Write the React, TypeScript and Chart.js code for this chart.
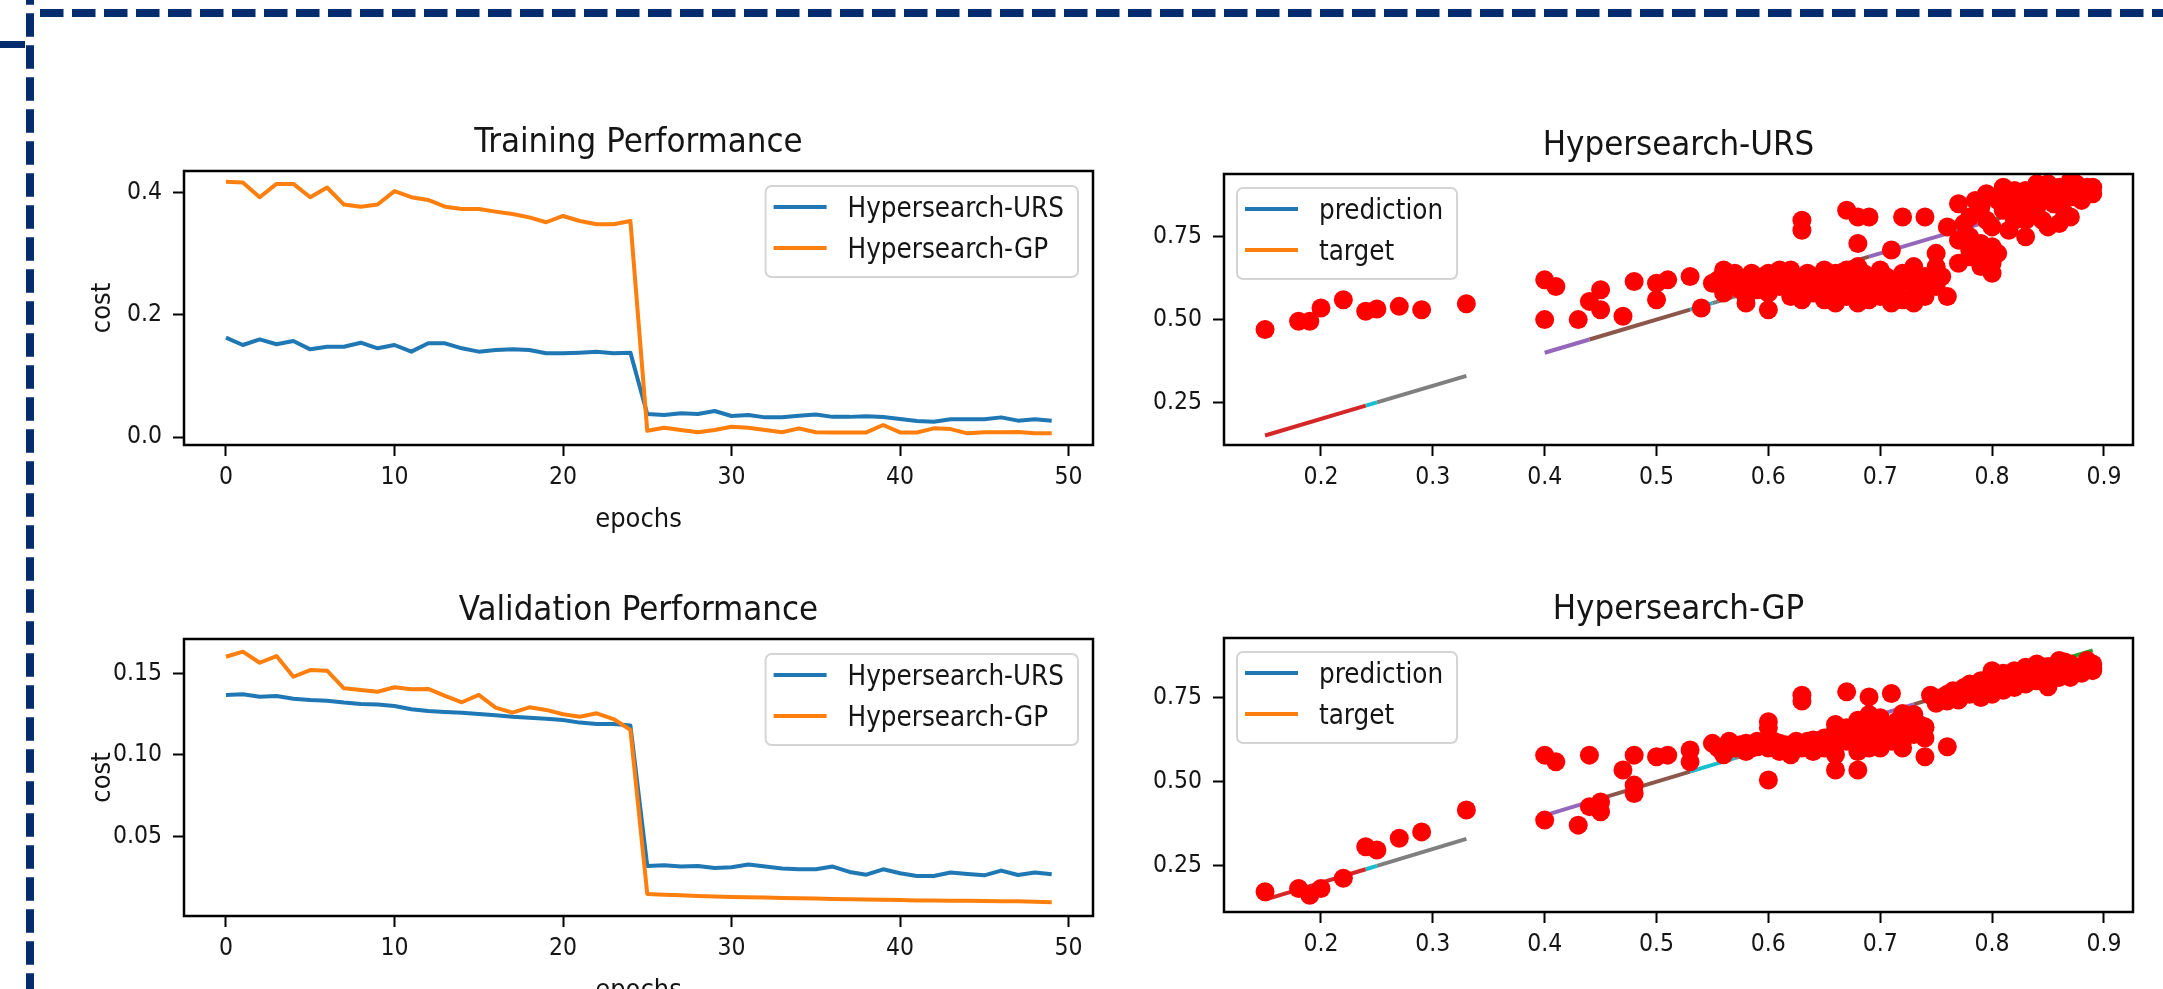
import React, { useEffect, useRef } from 'react';
import { Chart, registerables } from 'chart.js';

Chart.register(...registerables);

// ---------------- DATA ----------------
const EPOCHS = [0,1,2,3,4,5,6,7,8,9,10,11,12,13,14,15,16,17,18,19,20,21,22,23,24,25,26,27,28,29,30,31,32,33,34,35,36,37,38,39,40,41,42,43,44,45,46,47,48,49];

const TRAIN_URS = [0.1628,0.1508,0.160,0.152,0.1574,0.1437,0.148,0.148,0.1546,0.1454,0.1508,0.1399,0.1536,0.1536,0.1454,0.1399,0.1426,0.1437,0.1426,0.1372,0.1372,0.1383,0.1399,0.1372,0.1383,0.0377,0.036,0.0388,0.0377,0.0426,0.0344,0.036,0.0322,0.0322,0.035,0.037,0.033,0.033,0.034,0.0328,0.0295,0.0262,0.025,0.029,0.029,0.029,0.0322,0.0268,0.029,0.0268];
const TRAIN_GP = [0.4185,0.417,0.393,0.4148,0.4148,0.393,0.409,0.381,0.3775,0.381,0.403,0.393,0.3885,0.3775,0.3738,0.3738,0.3694,0.3656,0.360,0.352,0.3623,0.354,0.3487,0.3487,0.354,0.0103,0.0153,0.0115,0.0077,0.0115,0.0169,0.0153,0.0115,0.0077,0.0142,0.0077,0.0075,0.0075,0.0075,0.0197,0.0075,0.0075,0.0142,0.013,0.006,0.0077,0.008,0.0083,0.006,0.006];

const VAL_URS = [0.1369,0.1373,0.1358,0.1362,0.1346,0.1338,0.1334,0.1322,0.1313,0.131,0.1301,0.1281,0.127,0.1264,0.126,0.1252,0.1244,0.1235,0.1229,0.1223,0.1215,0.1199,0.119,0.119,0.1182,0.0318,0.0322,0.0314,0.0318,0.0305,0.031,0.0326,0.0314,0.0302,0.0297,0.0297,0.0314,0.0281,0.0264,0.0297,0.0273,0.0256,0.0256,0.0277,0.0268,0.026,0.0289,0.0262,0.0277,0.0266];
const VAL_GP = [0.1604,0.1635,0.1567,0.1608,0.1481,0.1522,0.1518,0.141,0.140,0.1389,0.1416,0.1404,0.1406,0.1363,0.1324,0.1369,0.1291,0.126,0.1293,0.1277,0.125,0.1235,0.1256,0.1221,0.1154,0.0146,0.0141,0.0137,0.0133,0.013,0.0127,0.0125,0.0123,0.0121,0.0119,0.0117,0.0115,0.0113,0.0111,0.011,0.0108,0.0106,0.0105,0.0104,0.0103,0.0102,0.0101,0.0100,0.0097,0.0094];

const SERIES_NAMES = ['Hypersearch-URS', 'Hypersearch-GP'];
const SCATTER_LEGEND = ['prediction', 'target'];

const URS_X = [0.15,0.18,0.19,0.20,0.22,0.24,0.25,0.27,0.29,0.33,0.40,0.41,0.40,0.43,0.44,0.45,0.45,0.47,0.48,0.50,0.51,0.50,0.53,0.54,0.55,0.56,0.57,0.56,0.58,0.59,0.595,0.60,0.61,0.61,0.57,0.58,0.59,0.60,0.60,0.62,0.62,0.63,0.64,0.64,0.65,0.65,0.66,0.66,0.67,0.67,0.68,0.68,0.69,0.69,0.70,0.70,0.71,0.71,0.72,0.72,0.73,0.74,0.74,0.75,0.75,0.63,0.63,0.67,0.68,0.68,0.69,0.71,0.72,0.74,0.76,0.75,0.73,0.76,0.68,0.77,0.77,0.78,0.78,0.79,0.795,0.80,0.80,0.81,0.81,0.82,0.82,0.83,0.83,0.84,0.85,0.85,0.86,0.865,0.87,0.875,0.88,0.89,0.87,0.85,0.79,0.80,0.83,0.84,0.86,0.88,0.78,0.77,0.82,0.84,
  0.555,0.565,0.575,0.585,0.605,0.615,0.625,0.635,0.645,0.655,0.665,0.675,0.685,0.695,0.705,0.715,0.725,0.735,0.745,0.755,0.63,0.65,0.67,0.69,0.71,0.73,0.62,0.58,0.66,0.70,
  0.775,0.785,0.79,0.795,0.805,0.805,0.815,0.815,0.825,0.83,0.835,0.845,0.845,0.855,0.86,0.865,0.87,0.875,0.88,0.885,0.89,0.78,0.79,0.80,0.82,0.85,0.87,0.86];
const URS_Y = [0.47,0.495,0.495,0.535,0.56,0.525,0.532,0.54,0.53,0.548,0.62,0.60,0.50,0.50,0.555,0.59,0.53,0.51,0.615,0.61,0.62,0.56,0.63,0.535,0.61,0.65,0.61,0.58,0.62,0.59,0.63,0.53,0.65,0.60,0.64,0.57,0.61,0.64,0.58,0.62,0.57,0.60,0.63,0.58,0.61,0.56,0.64,0.60,0.57,0.62,0.59,0.55,0.63,0.58,0.61,0.65,0.58,0.62,0.64,0.56,0.60,0.63,0.57,0.60,0.66,0.80,0.77,0.83,0.81,0.73,0.81,0.71,0.81,0.81,0.78,0.70,0.66,0.57,0.66,0.67,0.85,0.81,0.75,0.70,0.88,0.67,0.78,0.90,0.83,0.86,0.80,0.75,0.89,0.84,0.78,0.88,0.85,0.90,0.81,0.88,0.86,0.90,0.92,0.91,0.84,0.72,0.80,0.88,0.88,0.89,0.71,0.74,0.89,0.91,
  0.62,0.63,0.59,0.64,0.61,0.63,0.60,0.64,0.61,0.58,0.62,0.60,0.64,0.60,0.63,0.60,0.62,0.58,0.61,0.63,0.56,0.65,0.65,0.56,0.55,0.55,0.65,0.55,0.55,0.57,
  0.79,0.86,0.73,0.80,0.86,0.70,0.88,0.77,0.84,0.86,0.82,0.89,0.80,0.85,0.90,0.82,0.87,0.91,0.88,0.90,0.88,0.69,0.66,0.64,0.82,0.87,0.90,0.79];

const GP_X = [0.15,0.18,0.19,0.20,0.22,0.24,0.25,0.27,0.29,0.33,0.40,0.40,0.41,0.43,0.44,0.44,0.45,0.45,0.47,0.48,0.48,0.48,0.50,0.51,0.53,0.53,0.55,0.56,0.58,0.59,0.60,0.60,0.61,0.63,0.62,0.64,0.66,0.67,0.68,0.68,0.69,0.70,0.71,0.72,0.74,0.74,0.76,0.745,0.765,0.78,0.795,0.81,0.82,0.84,0.85,0.855,0.865,0.88,0.89,0.85,0.81,0.77,0.75,0.56,0.57,0.58,0.59,0.60,0.61,0.62,0.63,0.64,0.64,0.65,0.65,0.66,0.66,0.67,0.67,0.68,0.69,0.69,0.70,0.70,0.71,0.72,0.72,0.73,0.73,0.74,0.71,0.66,0.62,0.63,0.60,0.76,0.77,0.78,0.79,0.80,0.80,0.81,0.82,0.83,0.83,0.84,0.85,0.86,0.86,0.87,0.87,0.88,0.89,0.79,0.82,0.84,0.76,0.78,0.80,
  0.555,0.565,0.575,0.585,0.595,0.605,0.615,0.625,0.635,0.645,0.655,0.665,0.675,0.685,0.695,0.705,0.715,0.725,0.735,0.68,0.70,0.72,0.74,0.66,0.69,
  0.755,0.765,0.775,0.785,0.795,0.805,0.815,0.825,0.835,0.845,0.855,0.865,0.875,0.885,0.89,0.81,0.83,0.85,0.87,0.79,0.77,0.86,0.82,0.80];
const GP_Y = [0.173,0.183,0.163,0.183,0.213,0.307,0.297,0.332,0.351,0.416,0.386,0.579,0.559,0.371,0.579,0.426,0.411,0.44,0.535,0.579,0.465,0.49,0.574,0.579,0.594,0.559,0.614,0.604,0.614,0.604,0.678,0.505,0.614,0.757,0.584,0.624,0.535,0.767,0.535,0.683,0.752,0.634,0.762,0.703,0.663,0.574,0.604,0.757,0.762,0.772,0.802,0.822,0.802,0.832,0.782,0.832,0.856,0.822,0.837,0.842,0.772,0.743,0.733,0.58,0.60,0.59,0.62,0.60,0.59,0.61,0.60,0.59,0.62,0.60,0.63,0.61,0.65,0.62,0.66,0.64,0.60,0.67,0.64,0.69,0.66,0.62,0.67,0.64,0.70,0.63,0.62,0.58,0.58,0.74,0.66,0.76,0.77,0.79,0.77,0.81,0.78,0.80,0.83,0.81,0.79,0.80,0.82,0.84,0.81,0.85,0.83,0.84,0.85,0.80,0.78,0.85,0.74,0.76,0.76,
  0.60,0.62,0.61,0.60,0.61,0.62,0.61,0.62,0.62,0.60,0.62,0.63,0.64,0.62,0.65,0.66,0.68,0.65,0.67,0.59,0.60,0.60,0.66,0.67,0.70,
  0.75,0.77,0.78,0.77,0.79,0.80,0.82,0.81,0.82,0.83,0.84,0.83,0.84,0.86,0.83,0.79,0.84,0.80,0.81,0.75,0.75,0.86,0.80,0.83];

// y = x reference segments (start / end values)
const URS_SEG_START = [0.15,0.24,0.25,0.40,0.44,0.53,0.55,0.66,0.69,0.79,0.85,0.87];
const URS_SEG_END   = [0.24,0.25,0.33,0.44,0.53,0.55,0.66,0.69,0.79,0.85,0.87,0.89];
const GP_SEG_START  = [0.15,0.24,0.25,0.40,0.44,0.53,0.57,0.66,0.70,0.73,0.85,0.87];
const GP_SEG_END    = [0.24,0.25,0.33,0.44,0.53,0.57,0.66,0.70,0.73,0.85,0.87,0.89];

const EPOCH_TICKS = [0,10,20,30,40,50];
const EPOCH_TICK_LABELS = ['0','10','20','30','40','50'];
const TRAIN_Y_TICKS = [0.0,0.2,0.4];
const TRAIN_Y_LABELS = ['0.0','0.2','0.4'];
const VAL_Y_TICKS = [0.05,0.10,0.15];
const VAL_Y_LABELS = ['0.05','0.10','0.15'];
const SC_X_TICKS = [0.2,0.3,0.4,0.5,0.6,0.7,0.8,0.9];
const SC_X_LABELS = ['0.2','0.3','0.4','0.5','0.6','0.7','0.8','0.9'];
const SC_Y_TICKS = [0.25,0.50,0.75];
const SC_Y_LABELS = ['0.25','0.50','0.75'];

// ---------------- STYLE ----------------
const SERIES_COLORS = ['#1f77b4', '#ff7f0e'];
const URS_SEG_COLORS = ['#d62728','#17becf','#7f7f7f','#9467bd','#8c564b','#17becf','#7f7f7f','#8c564b','#9467bd','#8c564b','#17becf','#2ca02c'];
const GP_SEG_COLORS  = ['#d62728','#17becf','#7f7f7f','#9467bd','#8c564b','#17becf','#7f7f7f','#8c564b','#9467bd','#8c564b','#17becf','#2ca02c'];
const FONT = '"DejaVu Sans Condensed", "Noto Sans", sans-serif';
const TEXT = '#151515';
const BORDER_NAVY = '#032c6e';
const TITLE_SIZE = 34.5;
const LABEL_SIZE = 27;
const LEGEND_SIZE = 27.5;
const TICK_SIZE = 24.5;

const framePlugin = {
  id: 'frame',
  afterDraw(chart: any, _args: any, opts: any) {
    const { ctx, chartArea: a } = chart;
    ctx.save();
    ctx.strokeStyle = '#000';
    ctx.lineWidth = 2.5;
    ctx.strokeRect(a.left, a.top, a.right - a.left, a.bottom - a.top);
    ctx.fillStyle = TEXT;
    ctx.textBaseline = 'alphabetic';
    ctx.textAlign = 'center';
    const cx = (a.left + a.right) / 2;
    if (opts.title) {
      ctx.font = `${TITLE_SIZE}px ${FONT}`;
      ctx.fillText(opts.title, cx, a.top - 19);
    }
    if (opts.xLabel) {
      ctx.font = `${LABEL_SIZE}px ${FONT}`;
      ctx.fillText(opts.xLabel, cx, a.bottom + 82);
    }
    if (opts.yLabel) {
      ctx.save();
      ctx.font = `${LABEL_SIZE}px ${FONT}`;
      ctx.translate(a.left - 74, (a.top + a.bottom) / 2);
      ctx.rotate(-Math.PI / 2);
      ctx.fillText(opts.yLabel, 0, 0);
      ctx.restore();
    }
    if (opts.legend) {
      const items: string[] = opts.legend;
      const colors: string[] = opts.legendColors;
      ctx.font = `${LEGEND_SIZE}px ${FONT}`;
      const tw = Math.max(...items.map((t) => ctx.measureText(t).width));
      const w = 82 + tw + 14;
      const h = 91;
      const x = opts.legendSide === 'right' ? a.right - 15 - w : a.left + 13;
      const y = opts.legendSide === 'right' ? a.top + 15 : a.top + 14;
      const r = 6;
      ctx.beginPath();
      ctx.moveTo(x + r, y);
      ctx.arcTo(x + w, y, x + w, y + h, r);
      ctx.arcTo(x + w, y + h, x, y + h, r);
      ctx.arcTo(x, y + h, x, y, r);
      ctx.arcTo(x, y, x + w, y, r);
      ctx.closePath();
      ctx.fillStyle = 'rgba(255,255,255,0.85)';
      ctx.fill();
      ctx.strokeStyle = '#d4d4d4';
      ctx.lineWidth = 2;
      ctx.stroke();
      items.forEach((t, i) => {
        const ly = y + 21 + i * 41;
        ctx.strokeStyle = colors[i];
        ctx.lineWidth = 4;
        ctx.beginPath();
        ctx.moveTo(x + 8, ly);
        ctx.lineTo(x + 61, ly);
        ctx.stroke();
        ctx.fillStyle = TEXT;
        ctx.textAlign = 'left';
        ctx.fillText(t, x + 82, ly + 9.5);
      });
    }
    ctx.restore();
  },
};

function mkScale(axis: 'x' | 'y', min: number, max: number, ticks: number[], labels: string[], fitSize: number) {
  return {
    type: 'linear',
    min,
    max,
    bounds: 'data',
    afterBuildTicks: (s: any) => {
      s.ticks = ticks.map((v) => ({ value: v }));
    },
    afterFit: (s: any) => {
      if (axis === 'x') s.height = fitSize;
      else s.width = fitSize;
      s.paddingLeft = 0;
      s.paddingRight = 0;
      s.paddingTop = 0;
      s.paddingBottom = 0;
    },
    ticks: {
      callback: (_v: any, i: number) => labels[i],
      font: { family: FONT, size: TICK_SIZE },
      color: TEXT,
      padding: axis === 'x' ? 7 : 11,
      autoSkip: false,
      maxRotation: 0,
      minRotation: 0,
    },
    grid: {
      drawOnChartArea: false,
      drawTicks: true,
      tickLength: 11,
      tickWidth: 2,
      tickColor: '#000',
      color: '#000',
    },
    border: { display: false },
  };
}

type Area = { l: number; t: number; r: number; b: number };
type Spec = {
  area: Area;
  pad: { l: number; t: number; r: number; b: number };
  config: () => any;
};

function baseOptions(spec: { pad: any }, xs: any, ys: any, frame: any) {
  return {
    responsive: false,
    animation: false,
    events: [],
    layout: { padding: { left: 0, top: spec.pad.t, right: spec.pad.r, bottom: 0 } },
    scales: { x: xs, y: ys },
    plugins: { legend: { display: false }, tooltip: { enabled: false }, title: { display: false }, frame },
  };
}

function lineSpec(area: Area, urs: number[], gp: number[], yMin: number, yMax: number, yTicks: number[], yLabels: string[], title: string): Spec {
  const pad = { l: 150, t: 90, r: 20, b: 100 };
  return {
    area,
    pad,
    config: () => ({
      type: 'line',
      data: {
        datasets: [
          {
            label: SERIES_NAMES[0],
            data: EPOCHS.map((e, i) => ({ x: e, y: urs[i] })),
            borderColor: SERIES_COLORS[0],
            borderWidth: 4,
            pointRadius: 0,
            tension: 0,
            fill: false,
            borderJoinStyle: 'round',
            order: 2,
          },
          {
            label: SERIES_NAMES[1],
            data: EPOCHS.map((e, i) => ({ x: e, y: gp[i] })),
            borderColor: SERIES_COLORS[1],
            borderWidth: 4,
            pointRadius: 0,
            tension: 0,
            fill: false,
            borderJoinStyle: 'round',
            order: 1,
          },
        ],
      },
      options: baseOptions(
        { pad },
        mkScale('x', -2.49, 51.45, EPOCH_TICKS, EPOCH_TICK_LABELS, pad.b),
        mkScale('y', yMin, yMax, yTicks, yLabels, pad.l),
        { title, xLabel: 'epochs', yLabel: 'cost', legend: SERIES_NAMES, legendColors: SERIES_COLORS, legendSide: 'right' }
      ),
      plugins: [framePlugin],
    }),
  };
}

function scatterSpec(area: Area, xs: number[], ys: number[], segS: number[], segE: number[], segC: string[], yMin: number, yMax: number, title: string): Spec {
  const pad = { l: 110, t: 90, r: 30, b: 100 };
  const segs = segS.map((s, i) => ({
    type: 'line',
    data: [{ x: s, y: s }, { x: segE[i], y: segE[i] }],
    borderColor: segC[i],
    borderWidth: 4,
    pointRadius: 0,
    showLine: true,
    fill: false,
    order: 5,
  }));
  return {
    area,
    pad,
    config: () => ({
      type: 'scatter',
      data: {
        datasets: [
          {
            type: 'scatter',
            data: xs.map((x, i) => ({ x, y: ys[i] })),
            pointRadius: 9.5,
            pointBackgroundColor: '#ff0000',
            pointBorderColor: '#ff0000',
            pointBorderWidth: 0,
            order: 0,
          },
          ...segs,
        ],
      },
      options: baseOptions(
        { pad },
        mkScale('x', 0.1133, 0.926, SC_X_TICKS, SC_X_LABELS, pad.b),
        mkScale('y', yMin, yMax, SC_Y_TICKS, SC_Y_LABELS, pad.l),
        { title, legend: SCATTER_LEGEND, legendColors: SERIES_COLORS, legendSide: 'left' }
      ),
      plugins: [framePlugin],
    }),
  };
}

const SPECS: Spec[] = [
  lineSpec({ l: 184, t: 171, r: 1093, b: 445 }, TRAIN_URS, TRAIN_GP, -0.0131, 0.436, TRAIN_Y_TICKS, TRAIN_Y_LABELS, 'Training Performance'),
  lineSpec({ l: 184, t: 639, r: 1093, b: 916 }, VAL_URS, VAL_GP, 0.001, 0.1713, VAL_Y_TICKS, VAL_Y_LABELS, 'Validation Performance'),
  scatterSpec({ l: 1224, t: 174, r: 2133, b: 445 }, URS_X, URS_Y, URS_SEG_START, URS_SEG_END, URS_SEG_COLORS, 0.1213, 0.9397, 'Hypersearch-URS'),
  scatterSpec({ l: 1224, t: 638, r: 2133, b: 912 }, GP_X, GP_Y, GP_SEG_START, GP_SEG_END, GP_SEG_COLORS, 0.113, 0.927, 'Hypersearch-GP'),
];

function SubChart({ spec }: { spec: Spec }) {
  const ref = useRef<HTMLCanvasElement>(null);
  const { area, pad } = spec;
  const w = area.r - area.l + pad.l + pad.r;
  const h = area.b - area.t + pad.t + pad.b;
  useEffect(() => {
    const chart = new Chart(ref.current as HTMLCanvasElement, spec.config());
    return () => chart.destroy();
  }, [spec]);
  return (
    <canvas
      ref={ref}
      width={w}
      height={h}
      style={{ position: 'absolute', left: area.l - pad.l, top: area.t - pad.t, width: w, height: h }}
    />
  );
}

export default function App() {
  return (
    <div style={{ position: 'absolute', left: 0, top: 0, width: 2163, height: 989, overflow: 'hidden', background: '#fff' }}>
      {SPECS.map((s, i) => (
        <SubChart key={i} spec={s} />
      ))}
      <svg width={2163} height={989} style={{ position: 'absolute', left: 0, top: 0, pointerEvents: 'none' }}>
        <line x1={40} y1={13} x2={2163} y2={13} stroke={BORDER_NAVY} strokeWidth={8} strokeDasharray="23.5 8.5" />
        <line x1={30} y1={-18.7} x2={30} y2={989} stroke={BORDER_NAVY} strokeWidth={8} strokeDasharray="23.5 8.5" />
        <line x1={0} y1={44.5} x2={25} y2={44.5} stroke={BORDER_NAVY} strokeWidth={7} />
      </svg>
    </div>
  );
}
